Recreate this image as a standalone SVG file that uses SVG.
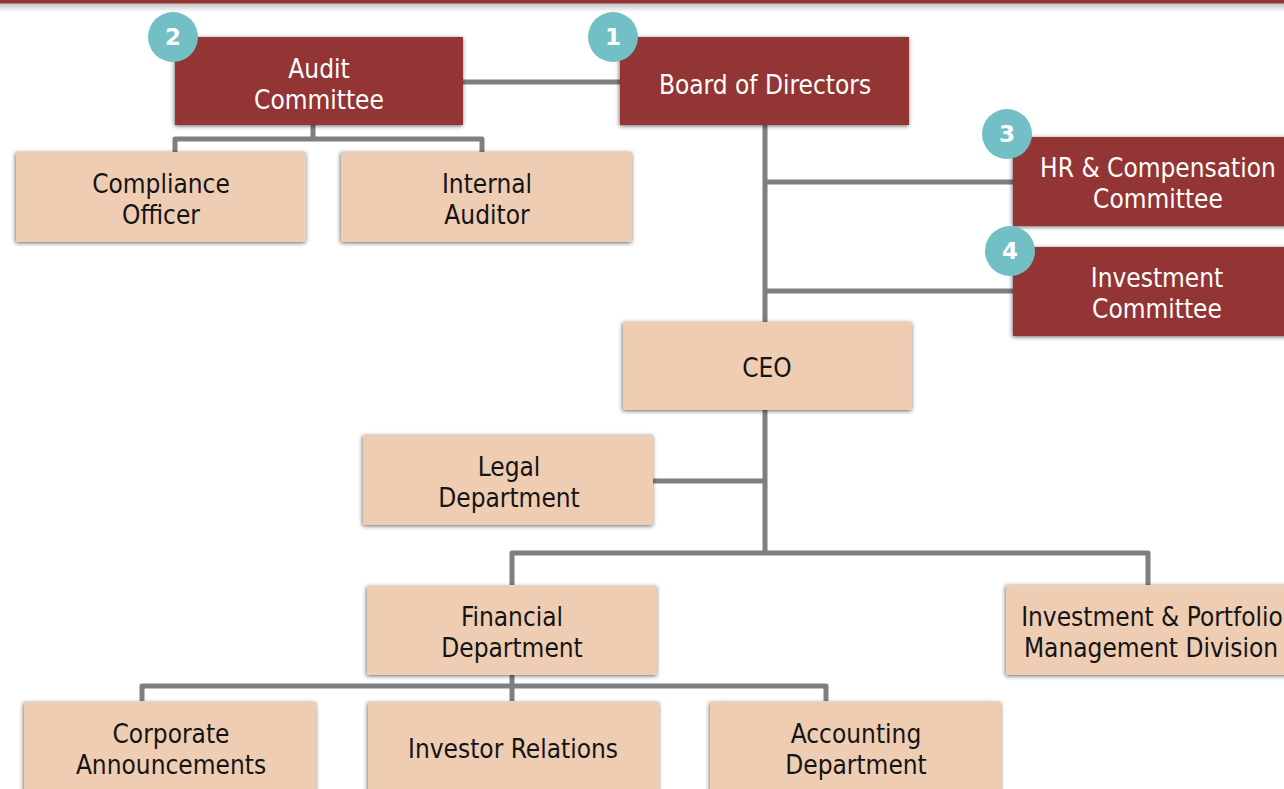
<svg xmlns="http://www.w3.org/2000/svg" width="1284" height="789" viewBox="0 0 1284 789">
  <defs>
    <filter id="shadow" x="-10%" y="-20%" width="120%" height="140%">
      <feDropShadow dx="-0.5" dy="1" stdDeviation="2.2" flood-color="#000" flood-opacity="0.6"/>
    </filter>
    <linearGradient id="topShade" x1="0" y1="0" x2="0" y2="1">
      <stop offset="0" stop-color="#bfbfbf"/>
      <stop offset="1" stop-color="#ffffff"/>
    </linearGradient>
    <style>
      .board { fill: #943634; filter: url(#shadow); }
      .dept { fill: #efcdb3; filter: url(#shadow); }
      .lbl { font-family: "DejaVu Sans Condensed", "DejaVu Sans", sans-serif; font-size: 26px; text-anchor: middle; }
      .light { fill: #ffffff; }
      .dark { fill: #141414; }
      .badge circle { fill: #72bfc5; }
      .badge text { font-family: "DejaVu Sans", sans-serif; font-weight: bold; font-size: 23px; fill: #ffffff; text-anchor: middle; }
      .conn { fill: none; stroke: #7f7f7f; stroke-width: 5; stroke-linejoin: round; }
    </style>
  </defs>

  <rect x="0" y="0" width="1284" height="789" fill="#ffffff"/>
  <!-- top rule -->
  <rect x="0" y="3" width="1284" height="9" fill="url(#topShade)"/>
  <rect x="0" y="0" width="1284" height="3.5" fill="#943634"/>

  <g id="connectors" class="conn">
    <path d="M463 82 H620"/>
    <path d="M313 125 V139"/>
    <path d="M175 152 V139 H482 V152"/>
    <path d="M765 125 V322"/>
    <path d="M765 182 H1013"/>
    <path d="M765 291 H1013"/>
    <path d="M765 410 V553"/>
    <path d="M653 481 H765"/>
    <path d="M512 585 V553 H1148 V585"/>
    <path d="M512 675 V701"/>
    <path d="M142 701 V686 H826 V701"/>
  </g>

  <g id="audit-committee">
    <rect class="board" x="175" y="37" width="288" height="88"/>
    <text class="lbl light" x="319" y="78">Audit</text>
    <text class="lbl light" x="319" y="109">Committee</text>
  </g>

  <g id="board-of-directors">
    <rect class="board" x="620" y="37" width="289" height="88"/>
    <text class="lbl light" x="765" y="94">Board of Directors</text>
  </g>

  <g id="hr-compensation-committee">
    <rect class="board" x="1013" y="137" width="290" height="89"/>
    <text class="lbl light" x="1158" y="177">HR &amp; Compensation</text>
    <text class="lbl light" x="1158" y="208">Committee</text>
  </g>

  <g id="investment-committee">
    <rect class="board" x="1013" y="247" width="290" height="89"/>
    <text class="lbl light" x="1157" y="287">Investment</text>
    <text class="lbl light" x="1157" y="318">Committee</text>
  </g>

  <g id="compliance-officer">
    <rect class="dept" x="16" y="152" width="290" height="90"/>
    <text class="lbl dark" x="161" y="193">Compliance</text>
    <text class="lbl dark" x="161" y="224">Officer</text>
  </g>

  <g id="internal-auditor">
    <rect class="dept" x="341" y="152" width="291" height="90"/>
    <text class="lbl dark" x="487" y="193">Internal</text>
    <text class="lbl dark" x="487" y="224">Auditor</text>
  </g>

  <g id="ceo">
    <rect class="dept" x="623" y="322" width="289" height="88"/>
    <text class="lbl dark" x="767" y="377">CEO</text>
  </g>

  <g id="legal-department">
    <rect class="dept" x="363" y="435" width="290" height="90"/>
    <text class="lbl dark" x="509" y="476">Legal</text>
    <text class="lbl dark" x="509" y="507">Department</text>
  </g>

  <g id="financial-department">
    <rect class="dept" x="367" y="586" width="290" height="89"/>
    <text class="lbl dark" x="512" y="626">Financial</text>
    <text class="lbl dark" x="512" y="657">Department</text>
  </g>

  <g id="investment-portfolio-division">
    <rect class="dept" x="1006" y="585" width="290" height="90"/>
    <text class="lbl dark" x="1152" y="626">Investment &amp; Portfolio</text>
    <text class="lbl dark" x="1151" y="657">Management Division</text>
  </g>

  <g id="corporate-announcements">
    <rect class="dept" x="24" y="702" width="292" height="92"/>
    <text class="lbl dark" x="171" y="743">Corporate</text>
    <text class="lbl dark" x="171" y="774">Announcements</text>
  </g>

  <g id="investor-relations">
    <rect class="dept" x="368" y="702" width="291" height="92"/>
    <text class="lbl dark" x="513" y="758">Investor Relations</text>
  </g>

  <g id="accounting-department">
    <rect class="dept" x="710" y="702" width="291" height="92"/>
    <text class="lbl dark" x="856" y="743">Accounting</text>
    <text class="lbl dark" x="856" y="774">Department</text>
  </g>

  <g id="badge-1" class="badge">
    <circle cx="613" cy="37" r="25"/>
    <text x="613" y="45">1</text>
  </g>
  <g id="badge-2" class="badge">
    <circle cx="173" cy="37" r="25"/>
    <text x="173" y="45">2</text>
  </g>
  <g id="badge-3" class="badge">
    <circle cx="1007" cy="134" r="25"/>
    <text x="1007" y="142">3</text>
  </g>
  <g id="badge-4" class="badge">
    <circle cx="1010" cy="251" r="25"/>
    <text x="1010" y="259">4</text>
  </g>
</svg>
